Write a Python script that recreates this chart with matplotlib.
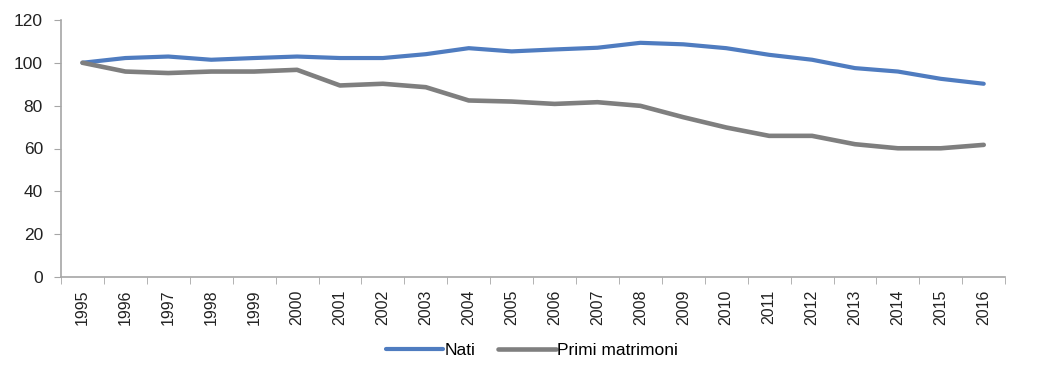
import numpy as np
import matplotlib
matplotlib.use("Agg")
import matplotlib.pyplot as plt

# dati (indice 1995 = 100)
anni = [str(a) for a in range(1995, 2017)]
nati = [100, 102.2, 102.9, 101.4, 102.2, 102.9, 102.2, 102.2, 104.0, 106.8, 105.3,
        106.2, 107.0, 109.3, 108.6, 106.8, 103.7, 101.4, 97.5, 95.9, 92.5, 90.2]
primi_matrimoni = [100, 95.9, 95.2, 95.9, 95.9, 96.7, 89.4, 90.2, 88.6, 82.4, 81.9,
                   80.8, 81.6, 79.9, 74.6, 69.8, 65.9, 65.9, 62.0, 60.1, 60.1, 61.7]

plt.rcParams['font.family'] = ['Liberation Sans', 'DejaVu Sans']

fig = plt.figure(figsize=(10.41, 3.75), dpi=100)
ax = fig.add_axes([0.0586, 0.261, 0.907, 0.686])

x = np.arange(len(anni))
ax.plot(x, nati, color='#4F7CC0', lw=3, label='Nati', solid_capstyle='round')
ax.plot(x, primi_matrimoni, color='#7F7F7F', lw=3.3, label='Primi matrimoni',
        solid_capstyle='round')

ax.set_xlim(-0.5, len(anni) - 0.5)
ax.set_ylim(0, 120)
ax.set_yticks(range(0, 121, 20))
ax.tick_params(axis='y', labelsize=12.5, length=5, color='#A6A6A6', labelcolor='#222222', pad=8)

ax.set_xticks(x)
ax.set_xticklabels(anni, rotation=90, fontsize=11.5, color='#222222')
ax.tick_params(axis='x', which='major', length=0, pad=9)
ax.set_xticks(np.arange(-0.5, len(anni)), minor=True)
ax.tick_params(axis='x', which='minor', length=5, color='#A6A6A6')

for s in ['top', 'right']:
    ax.spines[s].set_visible(False)
for s in ['left', 'bottom']:
    ax.spines[s].set_color('#A6A6A6')
    ax.spines[s].set_linewidth(1.2)

fig.legend(loc='center', bbox_to_anchor=(0.511, 0.066), ncol=2, frameon=False,
           handlelength=3.3, handletextpad=0.1, columnspacing=1.3,
           prop={'size': 12.5})

fig.savefig('out.png', dpi=100)
